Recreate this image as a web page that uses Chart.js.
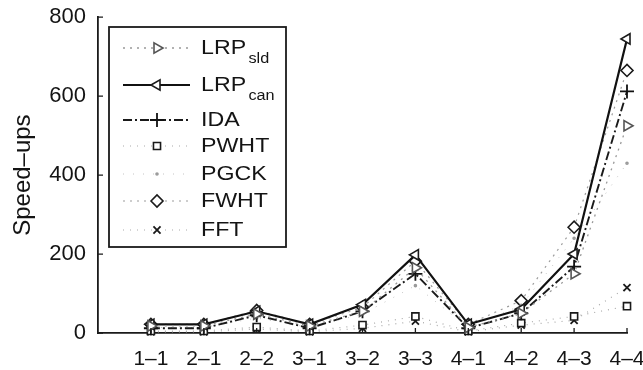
<!DOCTYPE html>
<html>
<head>
<meta charset="utf-8">
<script src="https://cdn.jsdelivr.net/npm/chart.js@4/dist/chart.umd.min.js"></script>
<style>
  html, body { margin: 0; padding: 0; background: #fff; }
  #wrap { width: 643px; height: 370px; }
</style>
</head>
<body>
<div id="wrap"><canvas id="speedups" width="643" height="370"></canvas></div>
<script>
const categories = ['1–1', '2–1', '2–2', '3–1', '3–2', '3–3', '4–1', '4–2', '4–3', '4–4'];
const yTicks = [0, 200, 400, 600, 800];

const lrpSld = [18, 18, 48, 18, 55, 165, 14, 50, 150, 525];
const lrpCan = [22, 22, 55, 22, 72, 198, 22, 60, 200, 745];
const ida = [12, 12, 45, 12, 55, 150, 12, 50, 168, 612];
const pwht = [5, 5, 15, 5, 20, 42, 5, 25, 42, 68];
const pgck = [14, 14, 38, 14, 48, 120, 14, 70, 240, 430];
const fwht = [22, 22, 57, 22, 65, 182, 22, 82, 268, 665];
const fft = [3, 3, 10, 3, 12, 30, 3, 20, 32, 115];

const seriesNames = [
    ['LRP', 'sld'],
    ['LRP', 'can'],
    ['IDA', ''],
    ['PWHT', ''],
    ['PGCK', ''],
    ['FWHT', ''],
    ['FFT', '']
];

const fontFamily = '"Liberation Sans", Arial, sans-serif';

function toPoints(values) {
    return values.map((v, i) => ({x: i + 1, y: v}));
}

function makeSeries(label, values, style) {
    return Object.assign({
        label: label,
        data: toPoints(values),
        fill: false,
        tension: 0,
        clip: false,
        pointBackgroundColor: '#fff',
        pointBorderWidth: 1.6,
        pointRadius: 6
    }, style);
}

const datasets = [
    makeSeries('LRP_sld', lrpSld, {borderColor: '#999', borderWidth: 1.3, borderDash: [2, 5],
        pointStyle: 'triangle', rotation: 90, pointBorderColor: '#555'}),
    makeSeries('LRP_can', lrpCan, {borderColor: '#111', borderWidth: 2.2,
        pointStyle: 'triangle', rotation: -90, pointBorderColor: '#1a1a1a'}),
    makeSeries('IDA', ida, {borderColor: '#1a1a1a', borderWidth: 1.9, borderDash: [9, 3, 2, 3],
        pointStyle: 'cross', pointBorderColor: '#111', pointRadius: 7, pointBorderWidth: 1.8}),
    makeSeries('PWHT', pwht, {borderColor: '#aaa', borderWidth: 1.2, borderDash: [1, 6],
        pointStyle: 'rect', pointBorderColor: '#1a1a1a', pointRadius: 5}),
    makeSeries('PGCK', pgck, {borderColor: '#c4c4c4', borderWidth: 1, borderDash: [1, 9],
        pointStyle: 'circle', pointBorderColor: '#999', pointRadius: 1}),
    makeSeries('FWHT', fwht, {borderColor: '#9c9c9c', borderWidth: 1.2, borderDash: [2, 5],
        pointStyle: 'rectRot', pointBorderColor: '#1a1a1a'}),
    makeSeries('FFT', fft, {borderColor: '#aaa', borderWidth: 1.2, borderDash: [1, 6],
        pointStyle: 'crossRot', pointBorderColor: '#1a1a1a', pointRadius: 5, pointBorderWidth: 1.8})
];

// boxed legend drawn inside the plot, with subscripted names
const boxedLegend = {
    id: 'boxedLegend',
    afterDraw(chart) {
        const ctx = chart.ctx;
        const rows = [48, 85, 120, 146, 174, 201, 230];
        ctx.save();
        ctx.strokeStyle = '#1a1a1a';
        ctx.lineWidth = 1.8;
        ctx.strokeRect(109, 27, 177, 220);
        datasets.forEach((ds, i) => {
            const y = rows[i];
            ctx.save();
            ctx.strokeStyle = ds.borderColor;
            ctx.lineWidth = ds.borderWidth;
            ctx.setLineDash(ds.borderDash || []);
            ctx.beginPath();
            ctx.moveTo(123, y);
            ctx.lineTo(190, y);
            ctx.stroke();
            ctx.restore();
            ctx.save();
            ctx.strokeStyle = ds.pointBorderColor;
            ctx.fillStyle = '#fff';
            ctx.lineWidth = ds.pointBorderWidth;
            Chart.helpers.drawPoint(ctx, {
                pointStyle: ds.pointStyle,
                rotation: ds.rotation || 0,
                radius: ds.pointRadius,
                borderWidth: ds.pointBorderWidth
            }, 157, y);
            ctx.restore();

            // names are set a little wide
            const [main, sub] = seriesNames[i];
            ctx.save();
            ctx.translate(201, y);
            ctx.scale(1.16, 1);
            ctx.fillStyle = '#141414';
            ctx.textBaseline = 'middle';
            ctx.font = '20px ' + fontFamily;
            ctx.fillText(main, 0, 0);
            if (sub) {
                const w = ctx.measureText(main).width;
                ctx.font = '14px ' + fontFamily;
                ctx.fillText(sub, w + 2, 11);
            }
            ctx.restore();
        });
        ctx.restore();
    }
};

// short tick marks pointing into the plot
const innerTicks = {
    id: 'innerTicks',
    afterDraw(chart) {
        const ctx = chart.ctx;
        const xs = chart.scales.x;
        const ys = chart.scales.y;
        ctx.save();
        ctx.strokeStyle = '#1a1a1a';
        ctx.lineWidth = 1.3;
        ctx.beginPath();
        yTicks.forEach(v => {
            const y = ys.getPixelForValue(v);
            ctx.moveTo(ys.right, y);
            ctx.lineTo(ys.right + 5, y);
        });
        categories.forEach((c, i) => {
            const x = xs.getPixelForValue(i + 1);
            ctx.moveTo(x, xs.top);
            ctx.lineTo(x, xs.top - 5);
        });
        ctx.stroke();
        ctx.restore();
    }
};

const config = {
    type: 'line',
    data: {datasets: datasets},
    options: {
        responsive: false,
        animation: false,
        devicePixelRatio: 1,
        layout: {padding: {top: 16, right: 16, left: 0, bottom: 0}},
        plugins: {legend: {display: false}, tooltip: {enabled: false}},
        scales: {
            x: {
                type: 'linear',
                min: 0,
                max: 10,
                afterBuildTicks(scale) {
                    scale.ticks = categories.map((c, i) => ({value: i + 1}));
                },
                afterFit(scale) {
                    scale.height = 37;
                    scale.paddingRight = 0;
                    scale.paddingLeft = 0;
                },
                grid: {display: false},
                border: {display: true, color: '#1a1a1a', width: 1.8},
                ticks: {
                    autoSkip: false,
                    maxRotation: 0,
                    padding: 6,
                    color: '#141414',
                    font: {family: fontFamily, size: 21},
                    callback: v => categories[v - 1] || ''
                }
            },
            y: {
                min: 0,
                max: 800,
                afterBuildTicks(scale) {
                    scale.ticks = yTicks.map(v => ({value: v}));
                },
                afterFit(scale) {
                    scale.width = 98;
                },
                grid: {display: false},
                border: {display: true, color: '#1a1a1a', width: 1.8},
                ticks: {
                    padding: 4,
                    color: '#141414',
                    font: {family: fontFamily, size: 22}
                },
                title: {
                    display: true,
                    text: 'Speed–ups',
                    color: '#141414',
                    padding: {top: 9},
                    font: {family: fontFamily, size: 24}
                }
            }
        }
    },
    plugins: [boxedLegend, innerTicks]
};

const ctx = document.getElementById('speedups').getContext('2d');
const speedChart = new Chart(ctx, config);
</script>
</body>
</html>
